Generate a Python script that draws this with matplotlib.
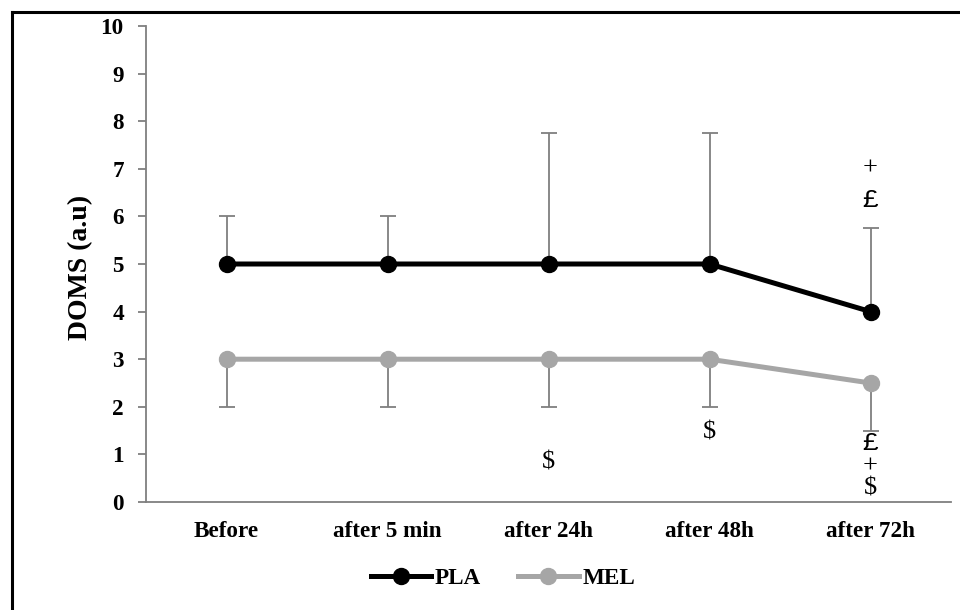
import matplotlib
matplotlib.use("Agg")
import matplotlib.pyplot as plt
from matplotlib.lines import Line2D

categories = ["Before", "after 5 min", "after 24h", "after 48h", "after 72h"]
pla = [5, 5, 5, 5, 4]
pla_err = [1, 1, 2.75, 2.75, 1.75]
mel = [3, 3, 3, 3, 2.5]
mel_err = [1, 1, 1, 1, 1]
yticks = list(range(0, 11))

# significance marks: (category index, y value, symbol)
marks_x = [2, 3, 4, 4, 4, 4, 4]
marks_y = [0.82, 1.47, 7.0, 6.34, 1.24, 0.74, 0.29]
marks_s = ["$", "$", "+", "£", "£", "+", "$"]

plt.rcParams['font.family'] = ['Liberation Serif', 'DejaVu Serif']

fig = plt.figure(figsize=(9.6, 6.1), dpi=100)
ax = fig.add_axes([146/960, 1-502/610, (951-146)/960, (502-26)/610])

x = list(range(len(categories)))
ax.errorbar(x, pla, yerr=[[0]*5, pla_err], fmt='none', ecolor='#7f7f7f',
            elinewidth=1.3, capsize=6, capthick=1.3, zorder=1)
ax.errorbar(x, mel, yerr=[mel_err, [0]*5], fmt='none', ecolor='#7f7f7f',
            elinewidth=1.3, capsize=6, capthick=1.3, zorder=1)
ax.plot(x, pla, color='black', lw=3.6, marker='o', ms=11.5, label='PLA', zorder=3)
ax.plot(x, mel, color='#a6a6a6', lw=3.6, marker='o', ms=11.5, label='MEL', zorder=2)

for mx, my, ms in zip(marks_x, marks_y, marks_s):
    fam = ['Liberation Mono', 'DejaVu Sans Mono'] if ms == "£" else ['Liberation Serif']
    ax.text(mx, my, ms, ha='center', va='center', fontsize=19, color='black', family=fam)

ax.set_xlim(-0.5, 4.5)
ax.set_ylim(0, 10)
ax.set_yticks(yticks)
ax.set_xticks(x)
ax.set_xticklabels(categories, fontweight='bold', fontsize=16.7)
ax.set_yticklabels([str(t) for t in yticks], fontweight='bold', fontsize=16.7)
for s in ['top', 'right']:
    ax.spines[s].set_visible(False)
for s in ['left', 'bottom']:
    ax.spines[s].set_color('#7f7f7f')
    ax.spines[s].set_linewidth(1.3)
ax.tick_params(axis='y', length=6, width=1.3, color='#7f7f7f', pad=10)
ax.tick_params(axis='x', length=0, pad=14)
ax.set_ylabel('DOMS (a.u)', fontweight='bold', fontsize=20)
ax.yaxis.set_label_coords((93-146)/(951-146), (502-267)/(502-26))

leg = fig.legend(loc='center', bbox_to_anchor=(503/960, 1-578/610), ncol=2, frameon=False,
                 prop={'weight': 'bold', 'size': 16.7}, handlelength=2.6,
                 handletextpad=0.15, columnspacing=1.6)

# outer border (left and top visible)
fig.add_artist(Line2D([11.5/960, 11.5/960], [0, 1-12/610], color='black', lw=2.2,
                      transform=fig.transFigure))
fig.add_artist(Line2D([11.5/960, 1], [1-12/610, 1-12/610], color='black', lw=2.2,
                      transform=fig.transFigure))

fig.savefig('out.png', dpi=100)
